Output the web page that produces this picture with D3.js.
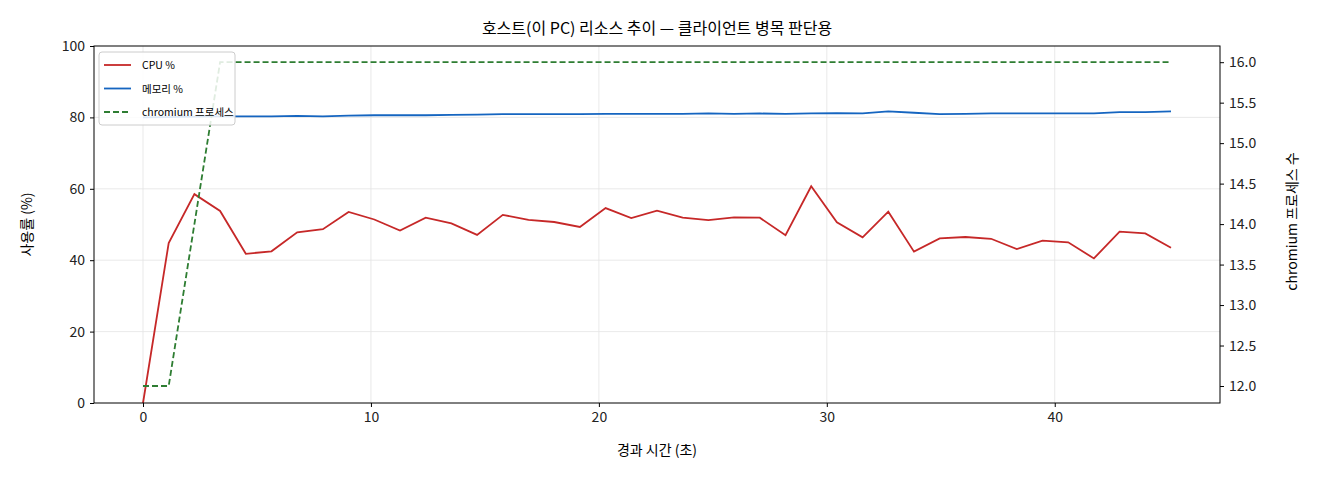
<!DOCTYPE html>
<html><head><meta charset="utf-8">
<script src="https://cdn.jsdelivr.net/npm/d3@7"></script>
<style>body{margin:0;background:#fff}text{font-family:"Noto Sans CJK KR","DejaVu Sans",sans-serif}</style>
</head><body><svg id="c" width="1320" height="480"></svg>
<script>
const times = d3.range(41).map(i => +(i * 1.1275).toFixed(3));
const cpu = [0,44.8,58.5,53.8,41.8,42.5,47.8,48.7,53.5,51.4,48.3,51.9,50.3,47.1,52.7,51.3,50.7,49.3,54.6,51.8,53.9,51.9,51.2,52.0,51.9,47.0,60.7,50.6,46.4,53.6,42.4,46.1,46.5,46.0,43.1,45.5,45.0,40.5,48.0,47.5,43.5];
const mem = [80.0,80.1,80.2,80.3,80.3,80.3,80.4,80.3,80.5,80.6,80.6,80.6,80.7,80.8,80.9,80.9,80.9,80.9,81.0,81.0,81.0,81.0,81.1,81.0,81.1,81.0,81.1,81.2,81.1,81.7,81.3,80.9,81.0,81.1,81.1,81.1,81.1,81.1,81.5,81.5,81.7];
const procs = [12,12,14,16,16,16,16,16,16,16,16,16,16,16,16,16,16,16,16,16,16,16,16,16,16,16,16,16,16,16,16,16,16,16,16,16,16,16,16,16,16];

const svg = d3.select("#c");
const L = 94, R = 1220, T = 46, B = 403;
const x = d3.scaleLinear().domain([-2.15, 47.25]).range([L, R]);
const y = d3.scaleLinear().domain([0, 100]).range([B, T]);
const y2 = d3.scaleLinear().domain([11.79, 16.2]).range([B, T]);

// grid
const g = svg.append("g").attr("stroke", "#e3e3e3").attr("stroke-width", 0.8);
[0,10,20,30,40].forEach(v => g.append("line").attr("x1", x(v)).attr("x2", x(v)).attr("y1", T).attr("y2", B));
[20,40,60,80].forEach(v => g.append("line").attr("x1", L).attr("x2", R).attr("y1", y(v)).attr("y2", y(v)));

const line = (ys, sc) => d3.line().x((d, i) => x(times[i])).y(d => sc(d))(ys);
svg.append("path").attr("d", line(cpu, y)).attr("fill", "none").attr("stroke", "#c62828").attr("stroke-width", 1.8);
svg.append("path").attr("d", line(mem, y)).attr("fill", "none").attr("stroke", "#1565c0").attr("stroke-width", 1.8);
svg.append("path").attr("d", line(procs, y2)).attr("fill", "none").attr("stroke", "#2e7d32").attr("stroke-width", 1.8).attr("stroke-dasharray", "6,3");

svg.append("rect").attr("x", L).attr("y", T).attr("width", R - L).attr("height", B - T).attr("fill", "none").attr("stroke", "#000").attr("stroke-width", 1);

const style = a => { a.select(".domain").remove(); a.selectAll("text").attr("font-size", 14).attr("fill", "#222"); a.selectAll("line").attr("stroke", "#000"); };
svg.append("g").attr("transform", `translate(0,${B})`).call(d3.axisBottom(x).tickValues([0,10,20,30,40]).tickSize(4).tickPadding(5)).call(style);
svg.append("g").attr("transform", `translate(${L},0)`).call(d3.axisLeft(y).tickValues([0,20,40,60,80,100]).tickSize(4).tickPadding(5)).call(style);
svg.append("g").attr("transform", `translate(${R},0)`).call(d3.axisRight(y2).tickValues(d3.range(12, 16.01, 0.5)).tickFormat(d3.format(".1f")).tickSize(4).tickPadding(5)).call(style);

svg.append("text").attr("x", (L + R) / 2).attr("y", 34).attr("text-anchor", "middle").attr("font-size", 16).text("호스트(이 PC) 리소스 추이 — 클라이언트 병목 판단용");
svg.append("text").attr("x", (L + R) / 2).attr("y", 455).attr("text-anchor", "middle").attr("font-size", 14).text("경과 시간 (초)");
svg.append("text").attr("transform", `translate(32,${(T + B) / 2}) rotate(-90)`).attr("text-anchor", "middle").attr("font-size", 14).text("사용률 (%)");
svg.append("text").attr("transform", `translate(1297,${(T + B) / 2 - 3}) rotate(-90)`).attr("text-anchor", "middle").attr("font-size", 14).text("chromium 프로세스 수");

// legend
const lg = svg.append("g").attr("transform", "translate(99,52)");
lg.append("rect").attr("width", 136).attr("height", 73).attr("rx", 3).attr("fill", "#fff").attr("fill-opacity", 0.85).attr("stroke", "#ccc");
[["CPU %", "#c62828", null], ["메모리 %", "#1565c0", null], ["chromium 프로세스", "#2e7d32", "6,3"]].forEach((d, i) => {
  const yy = 13 + i * 23.5;
  lg.append("line").attr("x1", 5).attr("x2", 32).attr("y1", yy).attr("y2", yy).attr("stroke", d[1]).attr("stroke-width", 1.8).attr("stroke-dasharray", d[2]);
  lg.append("text").attr("x", 43).attr("y", yy + 4).attr("font-size", 10.5).text(d[0]);
});
</script></body></html>
